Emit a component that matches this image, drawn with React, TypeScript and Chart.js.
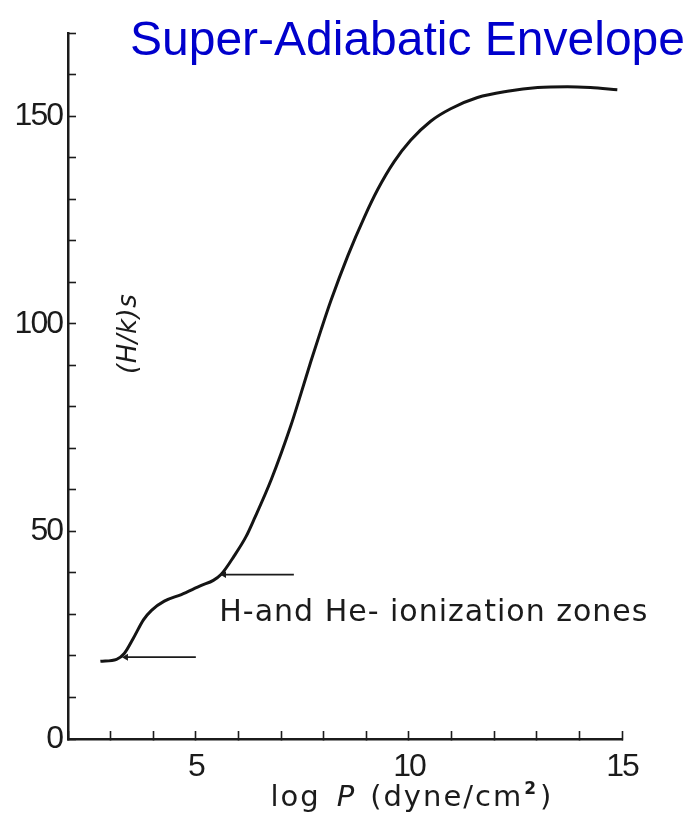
import React, { useEffect, useRef } from "react";
import { Chart, registerables } from "chart.js";

Chart.register(...registerables);

// ---- data ----
const logP = [2.76, 3.14, 3.32, 3.53, 3.77, 3.96, 4.26, 4.66, 5.13, 5.41, 5.59, 5.9, 6.18, 6.37, 6.77, 7.23, 7.47, 7.7, 7.94, 8.17, 8.57, 8.95, 9.27, 9.65, 10.04, 10.51, 10.98, 11.61, 12.31, 13.02, 13.72, 14.26, 14.89];
const entropy = [18.7, 19.2, 20.6, 24.2, 28.7, 31.0, 33.2, 34.8, 37.0, 38.2, 39.6, 44.1, 48.8, 53.0, 62.5, 75.5, 83.3, 91.0, 98.6, 105.6, 116.5, 125.6, 132.4, 139.0, 144.2, 148.8, 151.8, 154.5, 156.0, 156.9, 157.1, 156.9, 156.4];

const arrowLevels = [19.7, 39.6];
const arrowTails = [5.0, 7.3];
const arrowTips = [3.36, 5.66];

const xMajorLabels = [5, 10, 15];
const yMajorLabels = [0, 50, 100, 150];

const titleText = "Super-Adiabatic Envelope";
const annotationText = "H-and He- ionization zones";
const yTitleText = "(H/k)s";
const xTitleParts = ["log", "P", "(dyne/cm", "2", ")"];

const INK = "#1b1b1b";
const TICK_FONT = '"Liberation Sans", Arial, sans-serif';
const SCAN_FONT = '"DejaVu Sans", "Liberation Sans", sans-serif';

const tightTicksPlugin = {
  id: "tightTicks",
  beforeDraw(chart: any) {
    (chart.ctx as any).letterSpacing = "-2px";
  },
  beforeDatasetsDraw(chart: any) {
    (chart.ctx as any).letterSpacing = "0px";
  },
};

const overlayPlugin = {
  id: "overlay",
  afterDraw(chart: any) {
    const { ctx } = chart;
    const xs = chart.scales.x;
    const ys = chart.scales.y;
    ctx.save();
    (ctx as any).letterSpacing = "0px";

    // main title
    ctx.font = '48px "Liberation Sans", Arial, sans-serif';
    ctx.fillStyle = "#0000cc";
    ctx.textAlign = "right";
    ctx.textBaseline = "alphabetic";
    ctx.fillText(titleText, chart.width - 5, 55);

    // annotation text
    ctx.fillStyle = INK;
    ctx.font = "30px " + SCAN_FONT;
    (ctx as any).letterSpacing = "1px";
    ctx.textAlign = "left";
    ctx.textBaseline = "middle";
    ctx.fillText(annotationText, xs.getPixelForValue(5.55), ys.getPixelForValue(30.3));
    (ctx as any).letterSpacing = "0px";

    // y title (rotated, inside the plot)
    ctx.save();
    ctx.translate(xs.getPixelForValue(3.44), ys.getPixelForValue(97.6));
    ctx.rotate(-Math.PI / 2);
    ctx.font = "italic 26px " + SCAN_FONT;
    (ctx as any).letterSpacing = "0.5px";
    ctx.textAlign = "center";
    ctx.textBaseline = "middle";
    ctx.fillText(yTitleText, 0, 0);
    ctx.restore();

    // x title with italic P and superscript 2
    const segs = [
      { t: xTitleParts[0], f: "29px " + SCAN_FONT, dy: 0, gap: 16 },
      { t: xTitleParts[1], f: "italic 29px " + SCAN_FONT, dy: 0, gap: 14 },
      { t: xTitleParts[2], f: "29px " + SCAN_FONT, dy: 0, gap: 1 },
      { t: xTitleParts[3], f: "bold 17px " + SCAN_FONT, dy: -12, gap: 2 },
      { t: xTitleParts[4], f: "29px " + SCAN_FONT, dy: 0, gap: 0 },
    ];
    (ctx as any).letterSpacing = "2px";
    let total = 0;
    for (const s of segs) {
      ctx.font = s.f;
      total += ctx.measureText(s.t).width + s.gap;
    }
    let cx = xs.getPixelForValue(10.07) - total / 2;
    const base = chart.height - 12;
    ctx.textAlign = "left";
    ctx.textBaseline = "alphabetic";
    for (const s of segs) {
      ctx.font = s.f;
      ctx.fillText(s.t, cx, base + s.dy);
      cx += ctx.measureText(s.t).width + s.gap;
    }
    (ctx as any).letterSpacing = "0px";
    ctx.restore();
  },
};

export default function App() {
  const ref = useRef<HTMLCanvasElement | null>(null);

  useEffect(() => {
    if (!ref.current) return;
    const curve = logP.map((x, i) => ({ x, y: entropy[i] }));
    const arrows = arrowLevels.map((lvl, i) => ({
      type: "line" as const,
      order: 0,
      data: [
        { x: arrowTails[i], y: lvl },
        { x: arrowTips[i], y: lvl },
      ],
      borderColor: INK,
      backgroundColor: INK,
      borderWidth: 1.8,
      pointStyle: "triangle" as const,
      rotation: 270,
      pointRadius: (c: any) => (c.dataIndex === 1 ? 4 : 0),
      pointBorderWidth: 0,
      tension: 0,
    }));

    const chart = new Chart(ref.current, {
      type: "line",
      data: {
        datasets: [
          {
            order: 1,
            data: curve,
            borderColor: "#141414",
            borderWidth: 3,
            pointRadius: 0,
            cubicInterpolationMode: "monotone",
            fill: false,
          } as any,
          ...(arrows as any[]),
        ],
      },
      options: {
        animation: false,
        responsive: false,
        maintainAspectRatio: false,
        devicePixelRatio: 1,
        layout: { padding: { top: 22, right: 68, left: 0, bottom: 0 } },
        plugins: {
          legend: { display: false },
          tooltip: { enabled: false },
          title: { display: false },
        },
        scales: {
          x: {
            type: "linear",
            min: 2,
            max: 15,
            afterFit: (s: any) => {
              s.height = 79;
            },
            ticks: {
              stepSize: 1,
              autoSkip: false,
              maxRotation: 0,
              padding: 17,
              color: INK,
              font: { family: TICK_FONT, size: 32 },
              callback: (v: any) => (xMajorLabels.includes(Number(v)) ? String(v) : ""),
            },
            grid: {
              drawOnChartArea: false,
              drawTicks: true,
              tickLength: -8,
              tickColor: INK,
              tickWidth: 1.6,
            },
            border: { display: true, color: INK, width: 2.5 },
          },
          y: {
            type: "linear",
            min: 0,
            max: 170,
            afterFit: (s: any) => {
              s.width = 68;
            },
            ticks: {
              stepSize: 10,
              autoSkip: false,
              padding: 14,
              color: INK,
              font: { family: TICK_FONT, size: 32 },
              callback: (v: any) => (yMajorLabels.includes(Number(v)) ? String(v) : ""),
            },
            grid: {
              drawOnChartArea: false,
              drawTicks: true,
              tickLength: -8,
              tickColor: INK,
              tickWidth: 1.6,
            },
            border: { display: true, color: INK, width: 2.5 },
          },
        },
      },
      plugins: [tightTicksPlugin, overlayPlugin],
    });
    return () => chart.destroy();
  }, []);

  return (
    <div style={{ position: "absolute", left: 0, top: 0, width: 690, height: 818, background: "#fff" }}>
      <canvas ref={ref} width={690} height={818} style={{ display: "block" }} />
    </div>
  );
}
